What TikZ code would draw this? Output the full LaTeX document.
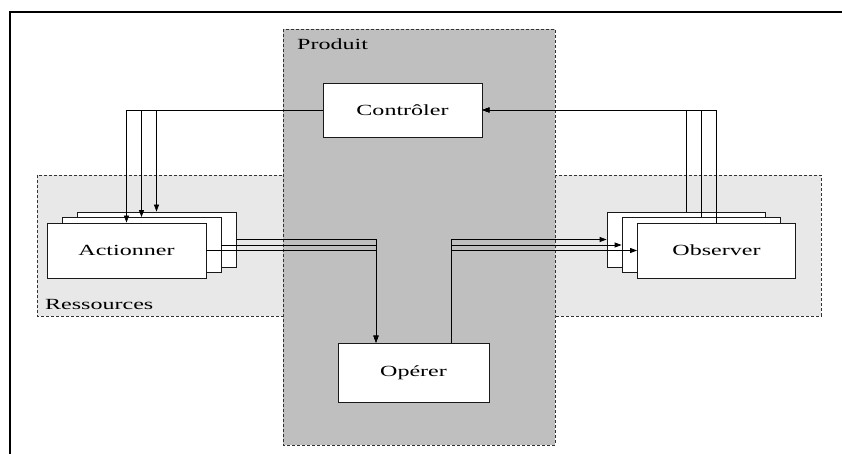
\documentclass[tikz,border=0pt]{standalone}
\usepackage{fontspec}
\usepackage{graphicx}
\setmainfont{Liberation Serif}
\usetikzlibrary{arrows.meta}
\newcommand{\wlbl}[1]{\scalebox{1.55}[1]{#1}}
\begin{document}
\begin{tikzpicture}[x=1pt,y=-1pt,
  txt/.style={font=\fontsize{15.5}{18}\selectfont, inner sep=0pt},
  zone/.style={draw=black!80, dash pattern=on 3pt off 2pt, line width=0.8pt},
  box/.style={draw=black!90, fill=white, line width=0.8pt, inner sep=0pt,
    font=\fontsize{15.5}{18}\selectfont, minimum width=159pt, minimum height=55pt},
  arr/.style={-{Triangle[length=7pt,width=5pt]}, line width=0.8pt},
  ln/.style={line width=0.8pt}]
\useasboundingbox (0,0) rectangle (842,454);
% frame (top and left)
\draw[line width=2pt] (842,12) -- (10,12) -- (10,454);
% zones
\draw[zone, fill=black!9] (37,175) rectangle (821,316);
\draw[zone, fill=black!25] (283,29) rectangle (555,445);
\node[txt, anchor=base west] (lprod) at (297,49.5) {\wlbl{Produit}};
\node[txt, anchor=base west] (lres) at (45,309) {\wlbl{Ressources}};
% nodes
\node[box, minimum height=54pt] (ctrl) at (402.5,110) {\wlbl{Contrôler}};
\node[box, minimum width=151pt, minimum height=59pt] (op) at (413.5,372.5) {\wlbl{Opérer}};
\node[box] (actB) at (156.5,239.5) {};
\node[box] (actM) at (141.5,245) {};
\node[box] (actF) at (126.5,250.5) {\wlbl{Actionner}};
\node[box, minimum width=158pt] (obsB) at (686,239.5) {};
\node[box, minimum width=158pt] (obsM) at (701,245) {};
\node[box, minimum width=158pt] (obsF) at (716.5,250.5) {\wlbl{Observer}};
% connectors: Controler -> Actionner
\draw[arr] (ctrl.west) -| (actF.north);
\draw[arr] (ctrl.west) -| (actM.north);
\draw[arr] (ctrl.west) -| (actB.north);
% Observer -> Controler
\draw[arr] (obsB.north) |- (ctrl.east);
\draw[arr] (obsM.north) |- (ctrl.east);
\draw[arr] (obsF.north) |- (ctrl.east);
% Actionner -> Operer
\coordinate (opin) at ([xshift=-37.5pt]op.north);
\coordinate (opout) at ([xshift=37.5pt]op.north);
\draw[arr] (actB.east) -| (opin);
\draw[arr] (actM.east) -| (opin);
\draw[arr] (actF.east) -| (opin);
% Operer -> Observer
\draw[arr] (opout) |- (obsB.west);
\draw[arr] (opout) |- (obsM.west);
\draw[arr] (opout) |- (obsF.west);
\end{tikzpicture}
\end{document}
